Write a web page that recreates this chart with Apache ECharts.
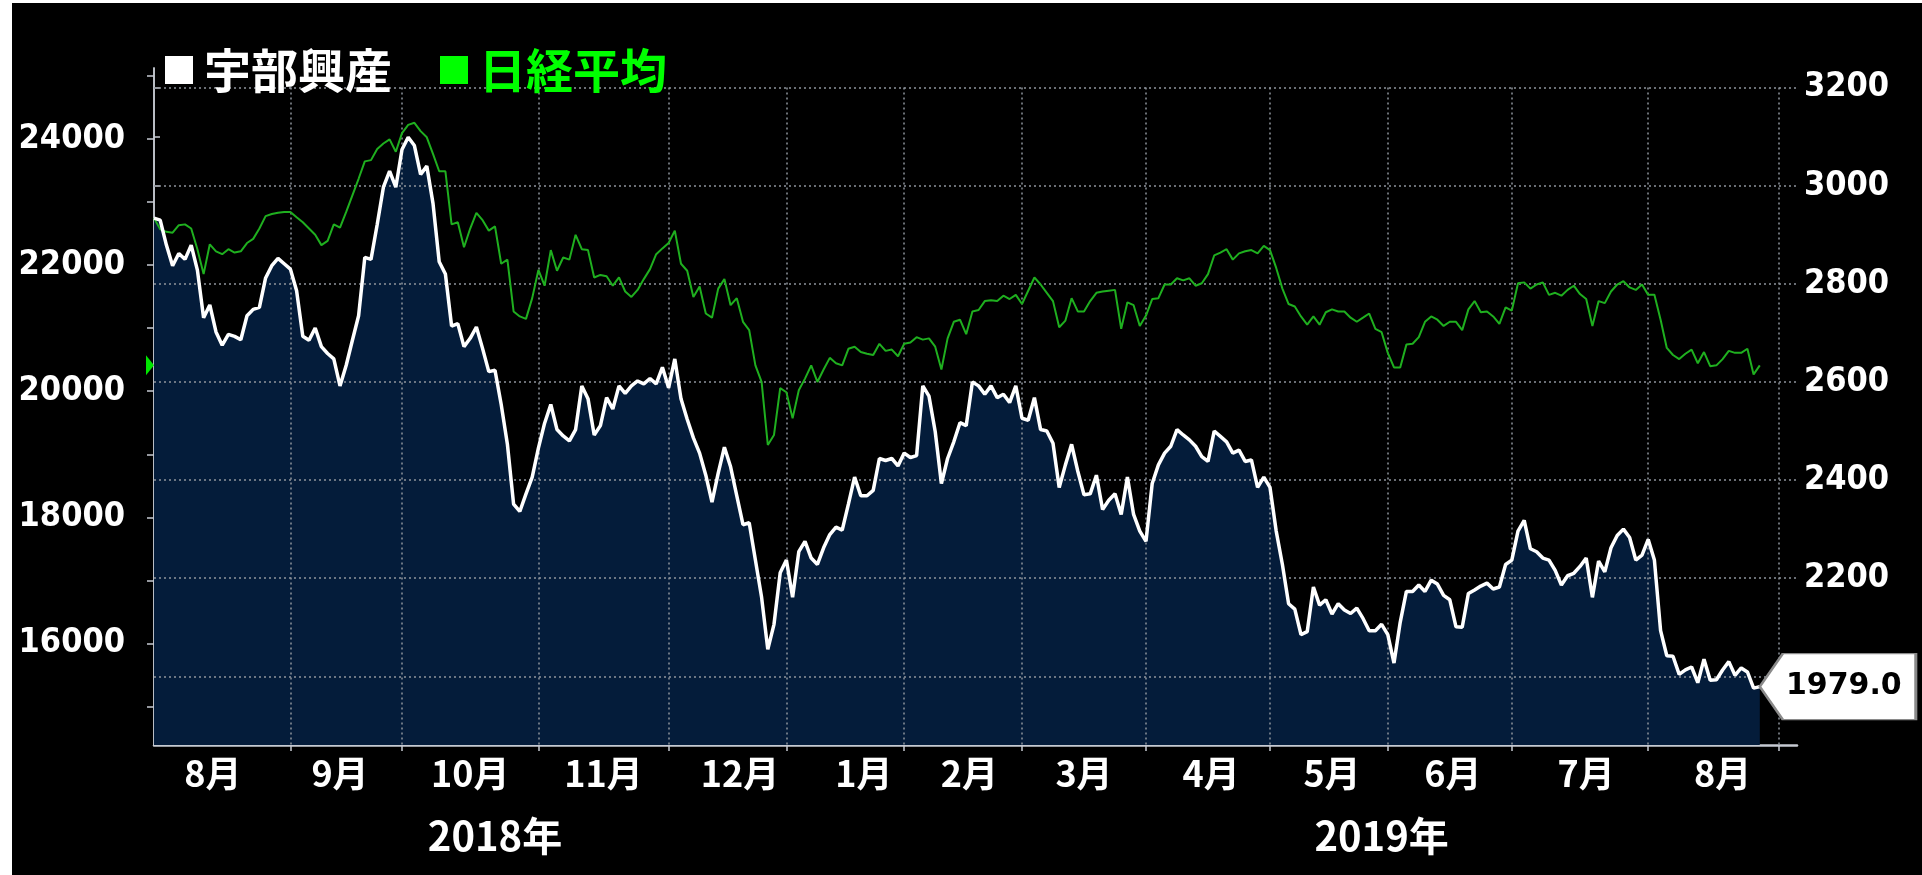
<!DOCTYPE html>
<html><head><meta charset="utf-8">
<script src="https://cdn.jsdelivr.net/npm/echarts@6/dist/echarts.min.js"></script>
<style>html,body{margin:0;padding:0;background:#fff;overflow:hidden;} #c{width:1922px;height:875px;}</style>
</head><body><div id="c"></div>
<script>
// Trading-day index 0 = 2018-08-01
const ube = [2934,2930,2879,2837,2862,2850,2879,2828,2731,2757,2702,2675,2697,2693,2686,2735,2748,2752,2812,2837,
2852,2841,2830,2786,2693,2685,2710,2672,2658,2647,2592,2634,2685,2735,2854,2850,2921,2997,3030,2997,
3074,3099,3082,3023,3040,2964,2845,2820,2714,2719,2672,2689,2712,2668,2621,2624,2554,2473,2351,2336,
2372,2406,2465,2516,2554,2503,2490,2480,2503,2592,2566,2492,2511,2568,2545,2592,2577,2592,2602,2596,
2607,2596,2630,2588,2647,2566,2524,2486,2455,2410,2355,2414,2467,2427,2368,2309,2313,2237,2161,2055,
2106,2211,2237,2161,2254,2275,2241,2228,2262,2289,2304,2298,2351,2406,2368,2368,2379,2444,2440,2444,
2429,2455,2446,2450,2592,2571,2499,2393,2444,2478,2517,2511,2600,2592,2575,2592,2568,2575,2558,2592,
2526,2522,2568,2503,2500,2475,2385,2431,2473,2418,2370,2372,2410,2340,2359,2372,2330,2406,2330,2296,
2275,2393,2431,2455,2469,2503,2492,2482,2469,2448,2438,2500,2489,2478,2455,2461,2438,2441,2385,2406,
2385,2296,2228,2148,2137,2085,2091,2182,2145,2156,2127,2148,2135,2128,2139,2118,2093,2093,2106,2085,
2027,2110,2173,2173,2186,2173,2196,2188,2165,2156,2101,2100,2169,2176,2184,2190,2178,2182,2228,2237,
2296,2318,2260,2254,2241,2237,2216,2186,2205,2210,2224,2241,2161,2235,2213,2262,2287,2300,2283,2237,
2247,2279,2237,2093,2042,2041,2004,2013,2019,1987,2035,1992,1993,2013,2030,2002,2017,2009,1976,1979];

const nikkei = [22745,22567,22528,22514,22633,22646,22580,22252,21857,22330,22219,22173,22252,22199,22219,22350,22416,22580,22777,22810,
22830,22843,22843,22758,22679,22580,22481,22317,22383,22646,22593,22843,23106,23369,23645,23665,23843,23928,23994,23797,
24093,24224,24257,24125,24027,23764,23488,23488,22646,22679,22284,22580,22830,22712,22547,22613,22021,22087,21265,21186,
21147,21476,21923,21673,22238,21910,22120,22087,22481,22252,22238,21804,21844,21824,21673,21804,21581,21495,21607,21778,
21936,22173,22265,22350,22547,22021,21910,21495,21660,21232,21166,21627,21778,21364,21475,21101,20969,20410,20147,19148,
19306,20049,19983,19569,20016,20200,20410,20147,20345,20529,20443,20410,20673,20706,20621,20594,20575,20752,20640,20660,
20555,20752,20772,20857,20818,20838,20706,20345,20838,21101,21134,20904,21265,21288,21429,21443,21429,21515,21462,21528,
21383,21594,21804,21692,21561,21429,21015,21120,21476,21265,21265,21429,21561,21581,21594,21607,20989,21410,21364,21035,
21199,21462,21476,21692,21692,21791,21758,21791,21673,21712,21857,22153,22199,22252,22087,22186,22219,22238,22186,22304,
22238,21955,21627,21383,21344,21186,21055,21186,21055,21252,21298,21265,21265,21166,21101,21166,21232,20989,20936,20608,
20377,20377,20739,20752,20857,21101,21186,21134,21035,21101,21101,20969,21298,21429,21252,21265,21186,21068,21331,21278,
21712,21726,21627,21692,21726,21528,21561,21515,21607,21673,21541,21462,21035,21429,21397,21581,21692,21745,21646,21607,
21692,21528,21528,21134,20686,20574,20509,20594,20660,20443,20621,20397,20410,20509,20640,20608,20608,20673,20266,20410];

// last trading day index of each month (month boundaries)
const monthEnds = [22,40,62,83,102,121,140,160,180,199,219,241,262];
const monthLabels = ['8月','9月','10月','11月','12月','1月','2月','3月','4月','5月','6月','7月','8月'];
const monthLabelAt = [9.5,30,51,72.5,94.5,114.5,131.5,150,170.5,190,209.5,231,253];
const yearLabels = ['2018年','2019年'];
const yearLabelAt = [55,198];
const leftTicks = [15000,16000,17000,18000,19000,20000,21000,22000,23000,24000,25000];
const leftLabels = [16000,18000,20000,22000,24000];
const rightTicks = [1900,2000,2100,2200,2300,2400,2500,2600,2700,2800,2900,3000,3100,3200];
const rightLabels = [2000,2200,2400,2600,2800,3000,3200];
const seriesNames = ['宇部興産','日経平均'];

const X_MIN = 0, X_MAX = 265;
const L_MIN = 14389, L_MAX = 25126;
const R_MIN = 1860, R_MAX = 3240;

const ubeData = ube.map((v,i)=>[i,v]);
const nkData = nikkei.map((v,i)=>[i,v]);
const last = ube.length - 1;

const axisCol = '#c6cad2';
const gridLine = {color:'#8e949c', type:[2,3], width:1.5};
const jpFont = '"Noto Sans CJK JP", sans-serif';
const numFont = '"DejaVu Sans Condensed", "DejaVu Sans", sans-serif';
const boxFont = '"DejaVu Sans", sans-serif';

const chart = echarts.init(document.getElementById('c'), null, {renderer:'canvas'});
chart.setOption({
  backgroundColor:'#000',
  animation:false,
  graphic:[
    {type:'rect', left:0, top:0, z:100, shape:{width:12, height:875}, style:{fill:'#fff'}},
    {type:'rect', left:0, top:0, z:100, shape:{width:1922, height:3}, style:{fill:'#fff'}}
  ],
  legend:{
    left:160, top:40, icon:'rect', itemWidth:28, itemHeight:28, itemGap:48, selectedMode:false,
    data:[
      {name:seriesNames[0], itemStyle:{color:'#ffffff'}, textStyle:{color:'#ffffff'}},
      {name:seriesNames[1], itemStyle:{color:'#00ff00'}, textStyle:{color:'#00ff00'}}
    ],
    textStyle:{fontSize:47, lineHeight:50, fontWeight:'bold', fontFamily:jpFont, padding:[0,0,0,6]}
  },
  grid:{left:154, right:125, top:68, bottom:130, containLabel:false, outerBoundsMode:'none'},
  xAxis:[
    {type:'value', min:X_MIN, max:X_MAX, position:'bottom',
     axisLine:{show:true, onZero:false, lineStyle:{color:axisCol, width:2.5}},
     axisTick:{show:true, customValues:monthEnds, length:6, lineStyle:{color:axisCol, width:1.5}},
     axisLabel:{show:true, customValues:monthLabelAt,
       formatter:(v)=>{const k=monthLabelAt.indexOf(v); return k>=0?monthLabels[k]:'';},
       color:'#fff', fontSize:36, lineHeight:36, fontWeight:'bold', fontFamily:jpFont, margin:10},
     splitLine:{show:false}},
    {type:'value', min:X_MIN, max:X_MAX, position:'bottom', offset:61,
     axisLine:{show:false}, axisTick:{show:false},
     axisLabel:{show:true, customValues:yearLabelAt,
       formatter:(v)=>{const k=yearLabelAt.indexOf(v); return k>=0?yearLabels[k]:'';},
       color:'#fff', fontSize:40, lineHeight:40, fontWeight:'bold', fontFamily:jpFont, margin:10},
     splitLine:{show:false}}
  ],
  yAxis:[
    {type:'value', position:'left', min:L_MIN, max:L_MAX,
     axisLine:{show:true, lineStyle:{color:axisCol, width:1.5}},
     axisTick:{show:true, customValues:leftTicks, length:7, lineStyle:{color:axisCol, width:1.5}},
     axisLabel:{show:true, customValues:leftLabels, formatter:(v)=>String(v),
       color:'#fff', fontSize:34, fontWeight:'bold', fontFamily:numFont, margin:29},
     splitLine:{show:false}},
    {type:'value', position:'right', min:R_MIN, max:R_MAX,
     axisLine:{show:true, lineStyle:{color:axisCol, width:1.5}},
     axisTick:{show:true, customValues:rightTicks, length:6, lineStyle:{color:axisCol, width:1.5}},
     axisLabel:{show:true, customValues:rightLabels, formatter:(v)=>String(v),
       color:'#fff', fontSize:34, fontWeight:'bold', fontFamily:numFont, margin:7},
     splitLine:{show:false}}
  ],
  series:[
    {type:'line', name:'ube-area', data:ubeData, xAxisIndex:0, yAxisIndex:1, symbol:'none', silent:true, z:1,
     lineStyle:{width:0}, areaStyle:{color:'#041c3a', opacity:1, origin:'start'},
     markLine:{silent:true, z:2, symbol:['none','none'], label:{show:false}, lineStyle:gridLine, animation:false,
       emphasis:{disabled:true},
       data:[
         ...rightLabels.map(v=>({yAxis:v})),
         ...monthEnds.map(m=>[{coord:[m, R_MAX - 40]},{coord:[m, R_MIN]}])
       ]}},
    {type:'line', name:seriesNames[1], data:nkData, xAxisIndex:0, yAxisIndex:0, symbol:'none', z:9,
     lineStyle:{color:'#1faf1f', width:2},
     markPoint:{z:20, symbol:'triangle', symbolSize:[20,8], symbolRotate:-90, symbolOffset:[-4,0],
       itemStyle:{color:'#00e600'}, label:{show:false}, silent:true,
       data:[{coord:[X_MIN, nikkei[last]]}]}},
    {type:'line', name:seriesNames[0], data:ubeData, xAxisIndex:0, yAxisIndex:1, symbol:'none', z:10,
     lineStyle:{color:'#ffffff', width:3.5},
     markPoint:{z:20, silent:true,
       symbol:'path://M0,33L23,0L156,0L156,66L23,66Z', symbolSize:[156,66], symbolKeepAspect:false, symbolOffset:[78,0],
       itemStyle:{color:'#ffffff', borderColor:'#8a8a8a', borderWidth:2},
       label:{show:true, position:'inside', formatter:()=>ube[last].toFixed(1), color:'#000', fontSize:30,
         fontWeight:'bold', fontFamily:boxFont, offset:[6,0]},
       data:[{coord:[last, ube[last]]}]}}
  ]
});
</script></body></html>
